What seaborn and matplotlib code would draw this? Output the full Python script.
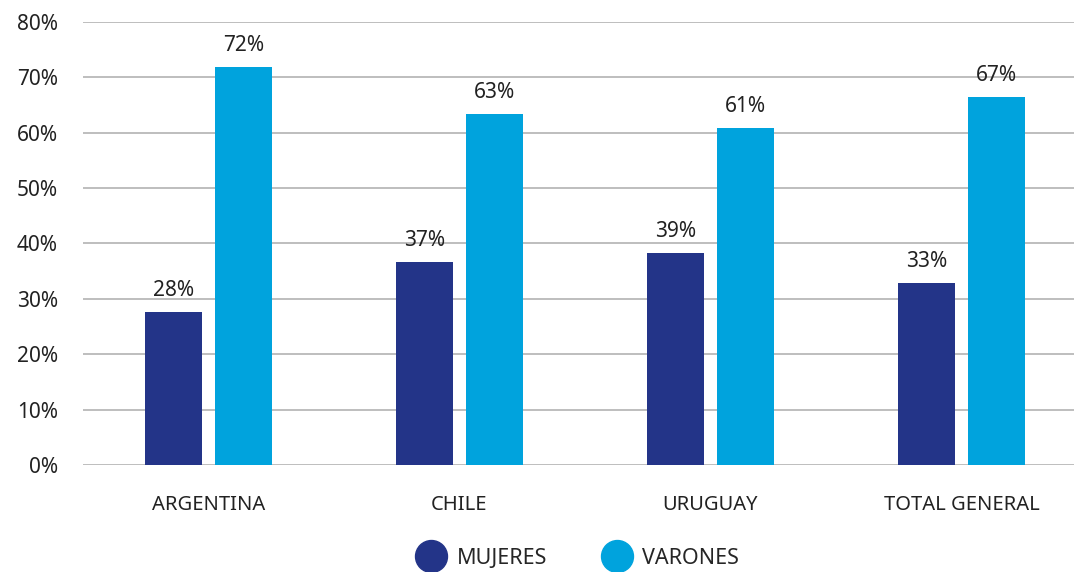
import pandas as pd
import numpy as np
import matplotlib.pyplot as plt
import seaborn as sns
from matplotlib.lines import Line2D

# Data
paises = ['ARGENTINA', 'CHILE', 'URUGUAY', 'TOTAL GENERAL']
mujeres = [27.6, 36.6, 38.2, 32.8]
varones = [71.8, 63.3, 60.8, 66.5]
etiquetas_mujeres = ['28%', '37%', '39%', '33%']
etiquetas_varones = ['72%', '63%', '61%', '67%']
colores = {'MUJERES': '#233488', 'VARONES': '#00a3dd'}

df = pd.DataFrame({
    'pais': paises * 2,
    'sexo': ['MUJERES'] * 4 + ['VARONES'] * 4,
    'valor': mujeres + varones,
})

sns.set_style('white')
plt.rcParams['font.family'] = ['Noto Sans', 'DejaVu Sans']

fig = plt.figure(figsize=(10.74, 5.72), dpi=100)
# the plot area runs a little past the right edge of the picture
ax = fig.add_axes([83 / 1074, 1 - 465 / 572, 1004 / 1074, 443 / 572])

sns.barplot(data=df, x='pais', y='valor', hue='sexo', palette=colores,
            width=0.558, gap=0.186, ax=ax, legend=False, saturation=1, linewidth=0)

# value labels
for cont, labs in zip(ax.containers, [etiquetas_mujeres, etiquetas_varones]):
    ax.bar_label(cont, labels=labs, padding=8, fontsize=15, color='#222222')

ax.set_ylim(0, 80)
ax.set_xlim(-0.5, 3.5)
ax.set_yticks(np.arange(0, 81, 10))
ax.set_yticklabels([f'{v}%' for v in range(0, 81, 10)], fontsize=15, color='#222222')
ax.tick_params(axis='x', labelsize=14.5, colors='#222222', pad=21.5, length=0)
ax.tick_params(axis='y', pad=18, length=0)
ax.set_xlabel('')
ax.set_ylabel('')
ax.grid(axis='y', color='#b3b3b3', linewidth=1.2)
ax.set_axisbelow(True)
for s in ax.spines.values():
    s.set_visible(False)

handles = [Line2D([], [], marker='o', linestyle='', markersize=23,
                  markerfacecolor=c, markeredgecolor=c) for c in colores.values()]
fig.legend(handles, list(colores.keys()), loc='center', bbox_to_anchor=(0.535, 1 - 558 / 572),
           ncol=2, frameon=False, fontsize=15.5, handletextpad=0.2, columnspacing=2.2)

fig.savefig('out.png', dpi=100)
